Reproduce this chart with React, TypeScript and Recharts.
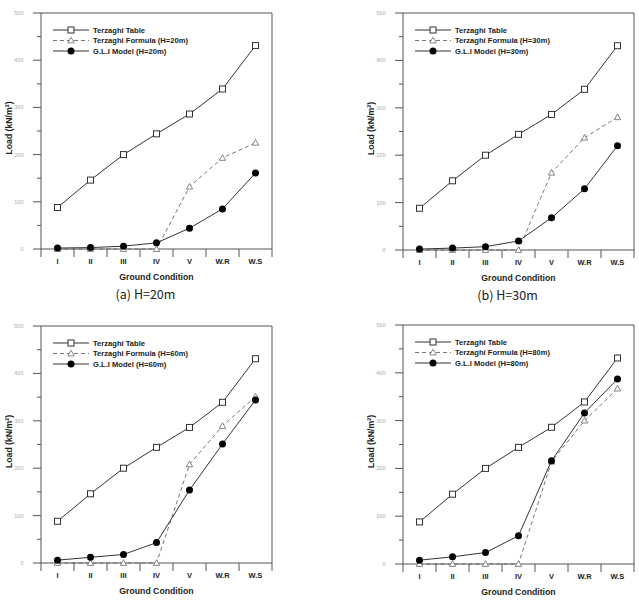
import React from "react";
import { LineChart, Line, XAxis, YAxis, ReferenceLine, Legend, Label } from "recharts";

// ground classes on the x axis
const categories = ["I", "II", "III", "IV", "V", "W.R", "W.S"];
const yTicks = [0, 50, 100, 150, 200, 250, 300, 350, 400, 450, 500];

// Terzaghi table values (same for every depth)
const terzaghiTable = [88, 146, 200, 244, 286, 339, 431];

const formula20 = [0, 0, 0, 0, 132, 193, 225];
const gli20 = [2, 3, 6, 13, 44, 85, 161];
const formula30 = [0, 0, 0, 0, 163, 237, 280];
const gli30 = [2, 4, 7, 19, 68, 129, 220];
const formula60 = [0, 0, 0, 0, 208, 289, 351];
const gli60 = [6, 12, 18, 43, 154, 251, 344];
const formula80 = [0, 0, 0, 0, 214, 300, 367];
const gli80 = [8, 15, 24, 59, 216, 316, 387];

const seriesOrder = ["table", "formula", "gli"];

const AXIS_COLOR = "#555";
const LINE_COLOR = "#333";
const DASH_COLOR = "#777";
const FONT = "'Liberation Sans', Arial, sans-serif";

const Y_AXIS_W = 41;
const TOP = 13;

function SquareDot({ cx, cy }: any) {
  if (cx == null || cy == null) return null;
  return <rect x={cx - 3} y={cy - 3} width={6} height={6} fill="#fff" stroke={LINE_COLOR} strokeWidth={1} />;
}

function TriangleDot({ cx, cy }: any) {
  if (cx == null || cy == null) return null;
  return (
    <path
      d={`M${cx},${cy - 3.3} L${cx + 3.2},${cy + 2.4} L${cx - 3.2},${cy + 2.4} Z`}
      fill="#fff"
      stroke={DASH_COLOR}
      strokeWidth={0.9}
    />
  );
}

function CircleDot({ cx, cy }: any) {
  if (cx == null || cy == null) return null;
  return <circle cx={cx} cy={cy} r={3.5} fill="#000" />;
}

function legendMarker(key: string, x: number, y: number) {
  if (key === "table") return <SquareDot cx={x} cy={y} />;
  if (key === "formula") return <TriangleDot cx={x} cy={y} />;
  return <CircleDot cx={x} cy={y} />;
}

function LegendBox({ payload }: any) {
  const rows = [...(payload || [])].sort(
    (a: any, b: any) => seriesOrder.indexOf(a.dataKey) - seriesOrder.indexOf(b.dataKey)
  );
  return (
    <svg width={170} height={34} style={{ display: "block", overflow: "visible" }}>
      {rows.map((item: any, i: number) => {
        const y = 5 + i * 10.5;
        const key = item.dataKey;
        return (
          <g key={key}>
            <line
              x1={0}
              x2={36}
              y1={y}
              y2={y}
              stroke={key === "formula" ? DASH_COLOR : LINE_COLOR}
              strokeDasharray={key === "formula" ? "4 3" : undefined}
            />
            {legendMarker(key, 18, y)}
            <text x={40} y={y} dominantBaseline="central" fontSize={7.6} fontWeight="bold" fill="#222" fontFamily={FONT}>
              {item.value}
            </text>
          </g>
        );
      })}
    </svg>
  );
}

interface PanelProps {
  left: number;
  top: number;
  plotW: number;
  plotH: number;
  depth: number;
  formula: number[];
  gli: number[];
  caption?: string;
}

function Panel({ left, top, plotW, plotH, depth, formula, gli, caption }: PanelProps) {
  const axisY = TOP + plotH;
  const bw = plotW / categories.length;
  const data = categories.map((c, i) => ({
    x: i + 0.5,
    name: c,
    table: terzaghiTable[i],
    formula: formula[i],
    gli: gli[i],
  }));

  const XTick = ({ x, payload }: any) => {
    const idx = payload.value as number;
    return (
      <g>
        <line x1={x} x2={x} y1={axisY} y2={axisY + 8} stroke={AXIS_COLOR} />
        {idx < categories.length && (
          <text
            x={x + bw / 2}
            y={axisY + 12}
            textAnchor="middle"
            dominantBaseline="central"
            fontSize={7.5}
            fontWeight="bold"
            fill="#222"
            fontFamily={FONT}
          >
            {categories[idx]}
          </text>
        )}
      </g>
    );
  };

  const YTick = ({ y, payload }: any) => {
    const v = payload.value as number;
    const major = v % 100 === 0;
    return (
      <g>
        <line x1={Y_AXIS_W - (major ? 8 : 4)} x2={Y_AXIS_W} y1={y} y2={y} stroke={AXIS_COLOR} />
        {major && (
          <text x={Y_AXIS_W - 17.5} y={y} textAnchor="end" dominantBaseline="central" fontSize={5.5} fill="#aaa" fontFamily={FONT}>
            {v}
          </text>
        )}
      </g>
    );
  };

  return (
    <div style={{ position: "absolute", left, top }}>
      <LineChart
        width={Y_AXIS_W + plotW + 4}
        height={TOP + plotH + 45}
        data={data}
        margin={{ top: TOP, right: 4, bottom: 0, left: 0 }}
      >
        <XAxis
          dataKey="x"
          type="number"
          domain={[0, 7]}
          ticks={[0, 1, 2, 3, 4, 5, 6, 7]}
          tick={<XTick />}
          tickLine={false}
          axisLine={{ stroke: AXIS_COLOR }}
          height={45}
          interval={0}
        >
          <Label
            content={() => (
              <text
                x={Y_AXIS_W + plotW / 2}
                y={axisY + 28}
                textAnchor="middle"
                dominantBaseline="central"
                fontSize={8.7}
                fontWeight="bold"
                fill="#222"
                fontFamily={FONT}
              >
                Ground Condition
              </text>
            )}
          />
        </XAxis>
        <YAxis
          type="number"
          domain={[0, 500]}
          ticks={yTicks}
          tick={<YTick />}
          tickLine={false}
          axisLine={{ stroke: AXIS_COLOR }}
          width={Y_AXIS_W}
          interval={0}
        >
          <Label
            content={() => (
              <text
                x={8.5}
                y={TOP + plotH / 2 - 3}
                transform={`rotate(-90 8.5 ${TOP + plotH / 2 - 3})`}
                textAnchor="middle"
                dominantBaseline="central"
                fontSize={8.7}
                fontWeight="bold"
                fill="#222"
                fontFamily={FONT}
              >
                Load (kN/m²)
              </text>
            )}
          />
        </YAxis>
        <ReferenceLine y={500} stroke={AXIS_COLOR} />
        <ReferenceLine x={7} stroke={AXIS_COLOR} />
        <Legend
          layout="vertical"
          align="center"
          verticalAlign="middle"
          content={<LegendBox />}
          wrapperStyle={{ position: "absolute", left: Y_AXIS_W + 12, top: TOP + 12, width: 170 }}
        />
        <Line
          dataKey="table"
          name="Terzaghi Table"
          stroke={LINE_COLOR}
          strokeWidth={1}
          dot={<SquareDot />}
          isAnimationActive={false}
        />
        <Line
          dataKey="formula"
          name={`Terzaghi Formula (H=${depth}m)`}
          stroke={DASH_COLOR}
          strokeWidth={1}
          strokeDasharray="4 3"
          dot={<TriangleDot />}
          isAnimationActive={false}
        />
        <Line
          dataKey="gli"
          name={`G.L.I Model (H=${depth}m)`}
          stroke={LINE_COLOR}
          strokeWidth={1}
          dot={<CircleDot />}
          isAnimationActive={false}
        />
      </LineChart>
      {caption && (
        <div
          style={{
            position: "absolute",
            left: Y_AXIS_W,
            width: plotW,
            top: axisY + 37,
            textAlign: "center",
            fontFamily: "'Noto Sans CJK KR', 'DejaVu Sans', sans-serif",
            fontSize: 12.5,
            color: "#222",
            lineHeight: "16px",
            paddingRight: 22,
            boxSizing: "border-box",
          }}
        >
          {caption}
        </div>
      )}
    </div>
  );
}

export default function App() {
  return (
    <div style={{ position: "absolute", left: 0, top: 0, width: 639, height: 612, overflow: "hidden", background: "#fff" }}>
      <Panel left={0} top={0} plotW={231} plotH={236} depth={20} formula={formula20} gli={gli20} caption="(a) H=20m" />
      <Panel left={362} top={0} plotW={231} plotH={237} depth={30} formula={formula30} gli={gli30} caption="(b) H=30m" />
      <Panel left={0} top={313} plotW={231} plotH={237} depth={60} formula={formula60} gli={gli60} />
      <Panel left={362} top={312} plotW={231} plotH={239} depth={80} formula={formula80} gli={gli80} />
    </div>
  );
}
